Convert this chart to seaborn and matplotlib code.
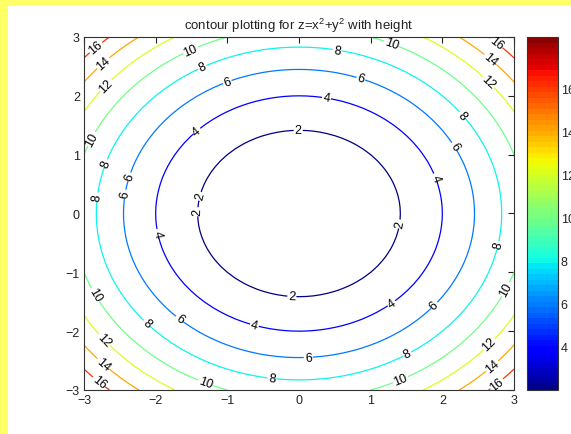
import numpy as np
import seaborn as sns
import matplotlib as mpl
import matplotlib.pyplot as plt
from matplotlib.patches import Rectangle
from matplotlib.colors import ListedColormap, Normalize

# grid for z = x^2 + y^2
grid_x = np.linspace(-3, 3, 61)
grid_y = np.linspace(-3, 3, 61)
levels = [2, 4, 6, 8, 10, 12, 14, 16]
x_ticks = [-3, -2, -1, 0, 1, 2, 3]
y_ticks = [-3, -2, -1, 0, 1, 2, 3]
cbar_ticks = [4, 6, 8, 10, 12, 14, 16]
cbar_range = (2.0, 18.4)

# where the height labels sit
label_spots = [
    (-2.82, 2.80), (-1.52, 2.80), (0.53, 2.76), (1.28, 2.85), (2.71, 2.83),
    (-2.72, 2.54), (2.62, 2.54), (-2.69, 2.17), (2.60, 2.18),
    (-1.34, 2.46), (-0.99, 2.20), (0.85, 2.24), (0.38, 1.93),
    (-1.42, 1.39), (2.25, 1.64), (-0.01, 1.39), (-2.87, 1.25),
    (2.27, 1.22), (-2.68, 0.84), (-2.36, 0.62), (1.87, 0.59),
    (-2.80, 0.28), (-2.43, 0.33), (-1.41, 0.30), (-1.41, 0.03),
    (1.41, -0.18), (-2.01, -0.35), (-0.10, -1.42), (-2.87, -1.40),
    (2.87, -1.28), (2.87, -0.57), (-2.10, -1.84), (-1.69, -1.83),
    (-0.63, -1.93), (1.27, -1.49), (1.87, -1.54), (1.51, -2.39),
    (0.13, -2.44), (-2.78, -2.22), (2.61, -2.17), (-2.73, -2.56),
    (2.67, -2.56), (-2.78, -2.85), (2.73, -2.85), (-1.31, -2.90),
    (-0.38, -2.81), (1.41, -2.81),
]

sns.set_style("white")
plt.rcParams['font.family'] = ['Liberation Sans', 'DejaVu Sans']
plt.rcParams['mathtext.fontset'] = 'custom'
plt.rcParams['mathtext.rm'] = 'Liberation Sans'

X, Y = np.meshgrid(grid_x, grid_y)
Z = X ** 2 + Y ** 2

jet64 = ListedColormap(sns.mpl_palette("jet", 64))
norm = Normalize(vmin=cbar_range[0], vmax=cbar_range[1])

fig = plt.figure(figsize=(5.71, 4.35), dpi=100, facecolor='#ffff66')
fig.add_artist(Rectangle((8 / 571, 0), 1, 1 - 6 / 435, transform=fig.transFigure,
                         facecolor='white', edgecolor='none', zorder=-5))

ax = fig.add_axes([84 / 571, 1 - 391 / 435, 430 / 571, 353 / 435])
cs = ax.contour(X, Y, Z, levels=levels, cmap=plt.get_cmap('jet'), norm=norm,
                linewidths=0.9)
ax.clabel(cs, fmt='%d', colors='k', fontsize=9, inline=True,
          inline_spacing=1, manual=label_spots)

ax.set_xlim(-3, 3)
ax.set_ylim(-3, 3)
ax.set_xticks(x_ticks)
ax.set_yticks(y_ticks)
ax.tick_params(direction='in', length=4, width=0.8, top=True, right=True,
               labelsize=9, colors='#222222', pad=3)
for sp in ax.spines.values():
    sp.set_color('#333333')
    sp.set_linewidth(0.8)
ax.set_title('contour plotting for z=x$^2$+y$^2$ with height', fontsize=9.5,
             color='#222222', pad=6)

cax = fig.add_axes([527 / 571, 1 - 391 / 435, 31 / 571, 353 / 435])
cb = mpl.colorbar.ColorbarBase(cax, cmap=jet64, norm=norm, ticks=cbar_ticks)
cb.outline.set_color('#333333')
cb.outline.set_linewidth(0.8)
cax.tick_params(direction='in', length=4, width=0.8, left=True, right=True,
                labelsize=9, colors='#222222', pad=2)

fig.savefig('out.png', dpi=100, facecolor=fig.get_facecolor())
